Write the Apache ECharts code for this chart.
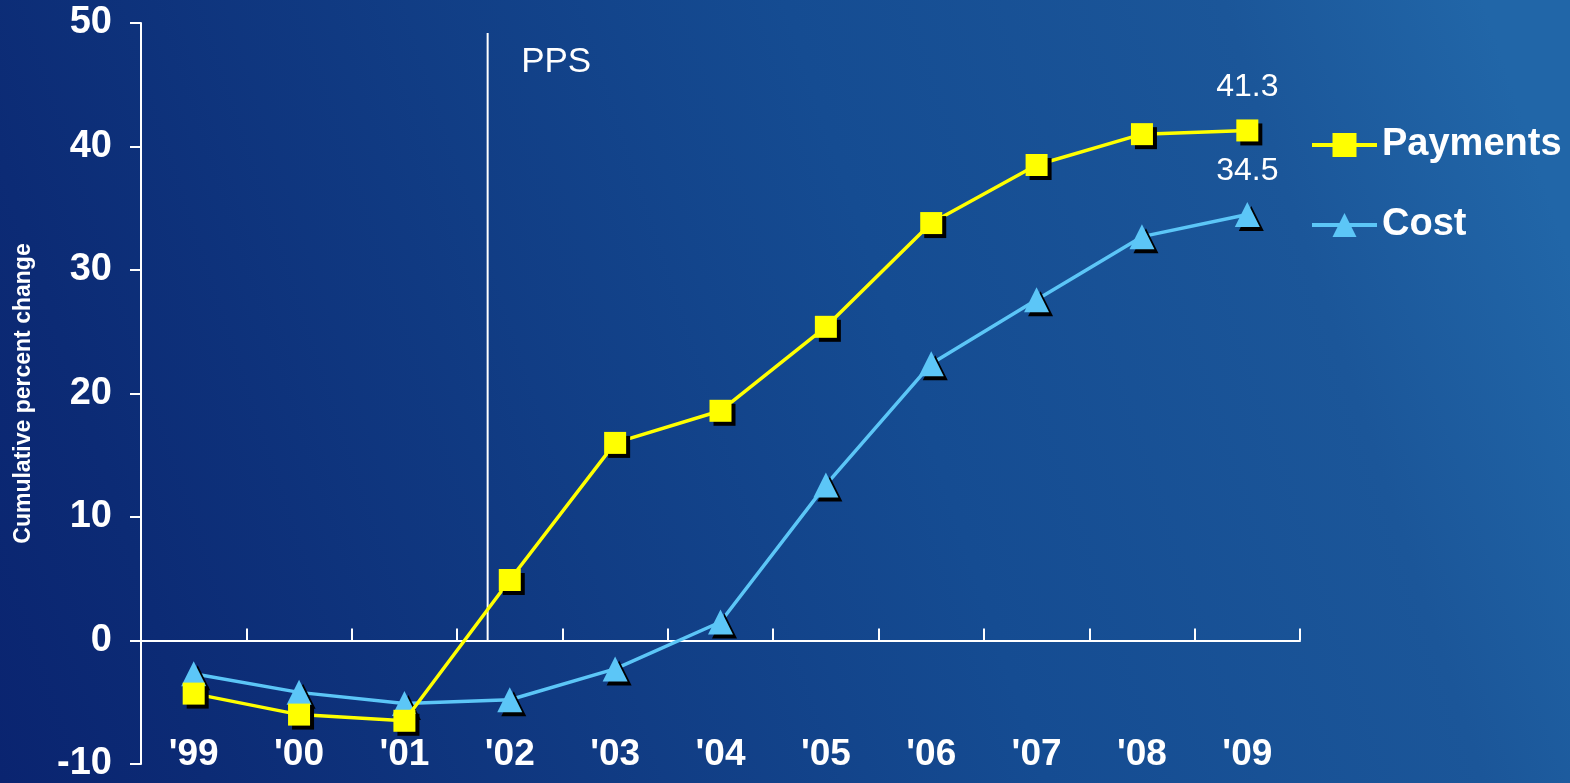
<!DOCTYPE html>
<html>
<head>
<meta charset="utf-8">
<script src="https://cdn.jsdelivr.net/npm/echarts@6/dist/echarts.min.js"></script>
<style>
html,body{margin:0;padding:0;width:1570px;height:783px;overflow:hidden;}
#chart{width:1570px;height:783px;}
</style>
</head>
<body>
<div id="chart"></div>
<script>
const categories = ["'99","'00","'01","'02","'03","'04","'05","'06","'07","'08","'09"];
const payments = [-4.3, -6.0, -6.5, 4.9, 16.0, 18.6, 25.4, 33.8, 38.5, 41.0, 41.3];
const cost = [-2.7, -4.2, -5.1, -4.8, -2.3, 1.5, 12.6, 22.4, 27.6, 32.7, 34.5];
const yTicks = [-10, 0, 10, 20, 30, 40, 50];
const ppsPosition = 2.79;      // between '01 and '02, in category index units
const ppsLineTop = 49.2;
const ppsLabel = 'PPS';
const yAxisTitle = 'Cumulative percent change';

const FONT = '"Liberation Sans", Arial, sans-serif';
const YELLOW = '#FFFF00';
const BLUE = '#5CC6F7';

function withEndLabel(arr) {
  return arr.map((v, i) => i === arr.length - 1
    ? { value: v, label: { show: true } }
    : v);
}

const chart = echarts.init(document.getElementById('chart'));
chart.setOption({
  animation: false,
  backgroundColor: {
    type: 'linear', x: 0, y: 1, x2: 1, y2: 0.33,
    colorStops: [
      { offset: 0, color: '#0a2470' },
      { offset: 0.12, color: '#0c2b75' },
      { offset: 0.6, color: '#154c92' },
      { offset: 0.85, color: '#1b5699' },
      { offset: 1, color: '#2166a8' }
    ]
  },
  grid: { left: 141, right: 270, top: 23, bottom: 17, containLabel: false },
  legend: {
    orient: 'vertical',
    left: 1305,
    top: 121,
    itemWidth: 65,
    itemHeight: 30,
    itemGap: 42,
    textStyle: { color: '#fff', fontSize: 38, fontWeight: 'bold', fontFamily: FONT },
    itemStyle: { shadowColor: 'rgba(0,0,0,0)', shadowOffsetX: 0, shadowOffsetY: 0 },
    lineStyle: { width: 4 },
    data: ['Payments', 'Cost']
  },
  xAxis: [
    {
      type: 'category', data: categories, position: 'bottom',
      boundaryGap: true,
      axisLine: { show: true, onZero: true, lineStyle: { color: '#fff', width: 2 } },
      axisTick: { show: true, inside: true, length: 12, lineStyle: { color: '#fff', width: 2 } },
      axisLabel: { show: false },
      splitLine: { show: false }
    },
    {
      type: 'category', data: categories, position: 'bottom',
      boundaryGap: true,
      axisLine: { show: false, onZero: false },
      axisTick: { show: false },
      axisLabel: { show: true, margin: -28, color: '#fff', fontSize: 37, fontWeight: 'bold', fontFamily: FONT },
      splitLine: { show: false }
    },
    {
      type: 'value', min: -0.5, max: categories.length - 0.5, show: false,
      axisLine: { onZero: false },
      splitLine: { show: false }
    }
  ],
  yAxis: {
    type: 'value', min: yTicks[0], max: yTicks[yTicks.length - 1], interval: 10,
    name: yAxisTitle,
    nameLocation: 'middle',
    nameGap: 106,
    nameTextStyle: { color: '#fff', fontSize: 23, fontWeight: 'bold', fontFamily: FONT },
    axisLine: { show: true, onZero: false, lineStyle: { color: '#fff', width: 2 } },
    axisTick: { show: true, length: 11, lineStyle: { color: '#fff', width: 2 } },
    axisLabel: { color: '#fff', fontSize: 38, fontWeight: 'bold', fontFamily: FONT, margin: 29 },
    splitLine: { show: false }
  },
  series: [
    {
      name: 'PPS-line', type: 'line', xAxisIndex: 2, silent: true,
      data: [[ppsPosition, 0], { value: [ppsPosition, ppsLineTop], label: {
        show: true, formatter: ppsLabel, position: 'right', offset: [28, 29],
        color: '#fff', fontSize: 35, fontFamily: FONT } }],
      showSymbol: true, symbol: 'circle', symbolSize: 1,
      itemStyle: { color: 'rgba(255,255,255,0)' },
      lineStyle: { color: '#fff', width: 2 },
      legendHoverLink: false, z: 1
    },
    {
      name: 'Payments', type: 'line', xAxisIndex: 0,
      data: withEndLabel(payments),
      symbol: 'rect', symbolSize: 22,
      lineStyle: { color: YELLOW, width: 3.5 },
      itemStyle: { color: YELLOW, shadowColor: '#000', shadowOffsetX: 4, shadowOffsetY: 4, shadowBlur: 0 },
      label: { show: false, position: 'top', distance: 16, color: '#fff', fontSize: 32, fontFamily: FONT },
      z: 3
    },
    {
      name: 'Cost', type: 'line', xAxisIndex: 0,
      data: withEndLabel(cost),
      symbol: 'triangle', symbolSize: 25,
      lineStyle: { color: BLUE, width: 3.5 },
      itemStyle: { color: BLUE, shadowColor: '#000', shadowOffsetX: 4, shadowOffsetY: 4, shadowBlur: 0 },
      label: { show: false, position: 'top', distance: 15, color: '#fff', fontSize: 32, fontFamily: FONT },
      z: 2
    }
  ]
});
</script>
</body>
</html>
